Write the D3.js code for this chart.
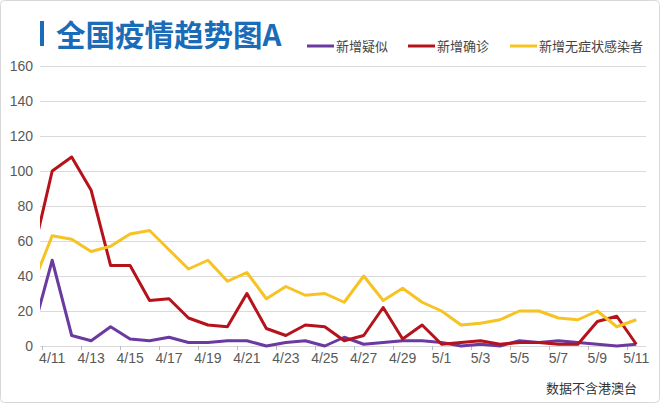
<!DOCTYPE html>
<html><head><meta charset="utf-8">
<script src="https://cdn.jsdelivr.net/npm/d3@7/dist/d3.min.js"></script>
<style>html,body{margin:0;padding:0;background:#fff;}svg{display:block;}</style>
</head><body>
<svg id="c" width="660" height="403"></svg>
<script>
const dates = ["4/10","4/11","4/12","4/13","4/14","4/15","4/16","4/17","4/18","4/19","4/20","4/21","4/22","4/23","4/24","4/25","4/26","4/27","4/28","4/29","4/30","5/1","5/2","5/3","5/4","5/5","5/6","5/7","5/8","5/9","5/10","5/11"];
const suspected = [8,49,6,3,11,4,3,5,2,2,3,3,0,2,3,0,5,1,2,3,3,2,0,1,0,3,2,3,2,1,0,1];
const confirmed = [52,100,108,89,46,46,26,27,16,12,11,30,10,6,12,11,3,6,22,4,12,1,2,3,1,2,2,1,1,14,17,1];
const asymptomatic = [35,63,61,54,57,64,66,55,44,49,37,42,27,34,29,30,25,40,26,33,25,20,12,13,15,20,20,16,15,20,11,15];
const seriesNames = ["新增疑似","新增确诊","新增无症状感染者"];
const seriesColors = ["#6b3aa0","#b5121b","#f6c323"];
const yTicks = [0,20,40,60,80,100,120,140,160];
const xLabels = dates.filter((d,i)=>i%2===1);
const titleText = "全国疫情趋势图A";
const noteText = "数据不含港澳台";

const svg = d3.select("#c");
const plotL = 40, plotR = 646, plotT = 66, plotB = 346;

svg.append("rect").attr("x",0.5).attr("y",0.5).attr("width",659).attr("height",402)
  .attr("rx",4).attr("fill","#fff").attr("stroke","#d8d8d8");

const x = d3.scaleBand().domain(dates).range([23, 646]).padding(0);
const cx = d => x(d) + x.bandwidth()/2;
const y = d3.scaleLinear().domain([0,160]).range([plotB, plotT]);

// grid
svg.append("g").selectAll("line").data(yTicks).join("line")
  .attr("x1",plotL).attr("x2",plotR)
  .attr("y1",d=>Math.round(y(d))+0.5).attr("y2",d=>Math.round(y(d))+0.5)
  .attr("stroke","#d9d9d9").attr("stroke-width",1);

// y labels
svg.append("g").selectAll("text").data(yTicks).join("text")
  .attr("x",33).attr("y",d=>y(d)).attr("dy","0.35em")
  .attr("text-anchor","end")
  .attr("font-family","'Liberation Sans', Arial, sans-serif")
  .attr("font-size",14).attr("fill","#595959")
  .text(d=>d);

// x ticks
svg.append("g").selectAll("line").data(xLabels).join("line")
  .attr("x1",d=>Math.round(x(d))+0.5).attr("x2",d=>Math.round(x(d))+0.5)
  .attr("y1",plotB).attr("y2",plotB+4)
  .attr("stroke","#bbb");

svg.append("g").selectAll("text").data(xLabels).join("text")
  .attr("x",d=>cx(d)).attr("y",363)
  .attr("text-anchor","middle")
  .attr("font-family","'Liberation Sans', Arial, sans-serif")
  .attr("font-size",14).attr("fill","#595959")
  .text(d=>d);

// clip
svg.append("clipPath").attr("id","clip").append("rect")
  .attr("x",plotL).attr("y",0).attr("width",plotR-plotL+4).attr("height",plotB+4);

const line = d3.line().x((d,i)=>cx(dates[i])).y(d=>y(d));
const data = [suspected, confirmed, asymptomatic];
const lg = svg.append("g").attr("clip-path","url(#clip)");
data.forEach((s,k)=>{
  lg.append("path").datum(s).attr("d",line)
    .attr("fill","none").attr("stroke",seriesColors[k])
    .attr("stroke-width",3).attr("stroke-linejoin","round");
});

// title
svg.append("rect").attr("x",40).attr("y",21).attr("width",4).attr("height",25).attr("fill","#1a6cb8");
svg.append("text").attr("x",56).attr("y",45.5)
  .attr("font-family","'Noto Sans CJK SC', sans-serif").attr("font-weight",700)
  .attr("font-size",29.5).attr("fill","#1a6cb8").text(titleText);

// legend
const legX = [307, 408, 510];
seriesNames.forEach((n,k)=>{
  svg.append("line").attr("x1",legX[k]).attr("x2",legX[k]+27).attr("y1",46).attr("y2",46)
    .attr("stroke",seriesColors[k]).attr("stroke-width",3);
  svg.append("text").attr("x",legX[k]+29).attr("y",46).attr("dy","0.36em")
    .attr("font-family","'Noto Sans CJK SC', sans-serif")
    .attr("font-size",13).attr("fill","#444").text(n);
});

svg.append("text").attr("x",546).attr("y",393)
  .attr("font-family","'Noto Sans CJK SC', sans-serif")
  .attr("font-size",13).attr("fill","#333").text(noteText);
</script>
</body></html>
